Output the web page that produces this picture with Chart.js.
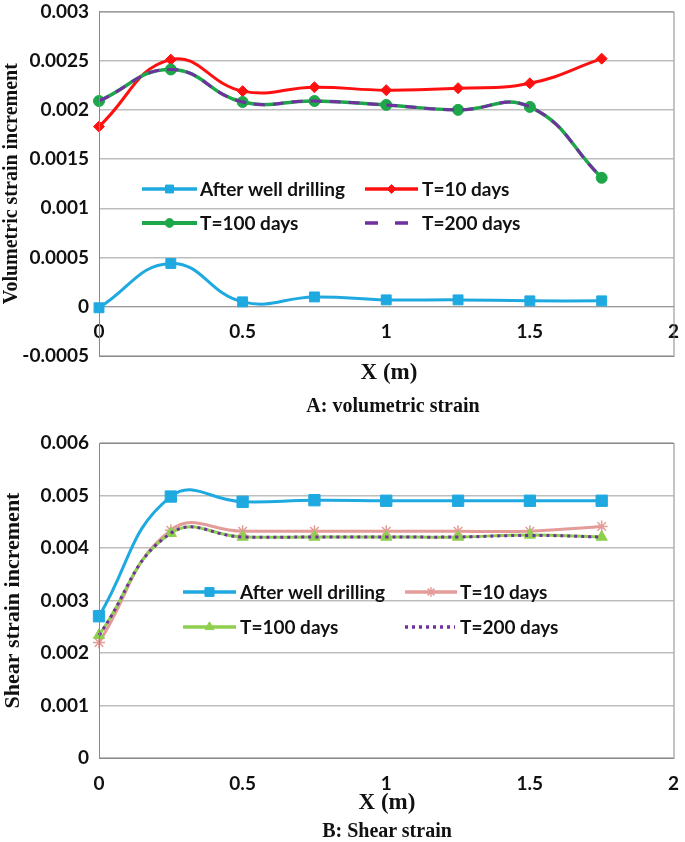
<!DOCTYPE html>
<html>
<head>
<meta charset="utf-8">
<script src="https://cdn.jsdelivr.net/npm/chart.js@4/dist/chart.umd.min.js"></script>
<style>
  body { margin: 0; background: #fff; width: 685px; height: 842px; position: relative; overflow: hidden; }
  canvas { position: absolute; left: 0; }
  .lbl { position: absolute; text-align: center; font-family: 'Liberation Serif', 'Times New Roman', serif; font-weight: bold; color: #111; white-space: nowrap; }
</style>
</head>
<body>
<canvas id="chart-vol" width="685" height="380" style="top:0"></canvas>
<div class="lbl" style="left:289px;width:200px;top:359px;font-size:23px">X (m)</div>
<div class="lbl" style="left:243px;width:300px;top:394px;font-size:20px">A: volumetric strain</div>

<canvas id="chart-shear" width="685" height="400" style="top:420px"></canvas>
<div class="lbl" style="left:287px;width:200px;top:789px;font-size:23px">X (m)</div>
<div class="lbl" style="left:237px;width:300px;top:819px;font-size:20px">B: Shear strain</div>

<script>
/* ── Datos ── */
const xPos       = [0, 0.25, 0.5, 0.75, 1, 1.25, 1.5, 1.75];
const xTicks     = [0, 0.5, 1, 1.5, 2];
const seriesNames = ['After well drilling', 'T=10 days', 'T=100 days', 'T=200 days'];

// A: volumetric strain increment
const volTicks   = [-0.0005, 0, 0.0005, 0.001, 0.0015, 0.002, 0.0025, 0.003];
const volAfter   = [-0.00001, 0.00044, 0.00005, 0.0001, 0.00007, 0.00007, 0.00006, 0.00006];
const volT10     = [0.00183, 0.00251, 0.00219, 0.00223, 0.0022, 0.00222, 0.00227, 0.00252];
const volT100    = [0.00209, 0.00241, 0.00208, 0.00209, 0.00205, 0.002, 0.00203, 0.00131];
const volT200    = [0.00209, 0.00241, 0.00208, 0.00209, 0.00205, 0.002, 0.00203, 0.00131];

// B: shear strain increment
const shearTicks = [0, 0.001, 0.002, 0.003, 0.004, 0.005, 0.006];
const shearAfter = [0.0027, 0.00498, 0.00488, 0.00491, 0.0049, 0.0049, 0.0049, 0.0049];
const shearT10   = [0.0022, 0.00434, 0.00432, 0.00432, 0.00432, 0.00432, 0.00432, 0.00441];
const shearT100  = [0.00234, 0.00428, 0.00421, 0.00421, 0.00421, 0.00421, 0.00425, 0.00421];
const shearT200  = [0.00234, 0.00428, 0.00421, 0.00421, 0.00421, 0.00421, 0.00424, 0.00421];

const pts = arr => arr.map((y, i) => ({ x: xPos[i], y }));
const fmt = v => String(Number(v.toFixed(4)));

const tickFont  = { family: "Lato, 'Open Sans', sans-serif", size: 19, weight: 'bold' };
const serif     = "'Liberation Serif', 'Times New Roman', serif";
const gridColor = '#bdbdbd';

/* ── Plugins ── */
const plotBorder = {
  id: 'plotBorder',
  afterDraw(chart) {
    const { ctx, chartArea: a } = chart;
    ctx.save();
    ctx.strokeStyle = '#8a8a8a';
    ctx.lineWidth = 1;
    ctx.strokeRect(a.left + 0.5, a.top + 0.5, a.right - a.left, a.bottom - a.top);
    ctx.restore();
  }
};

const insideLegend = {
  id: 'insideLegend',
  afterDraw(chart, args, opts) {
    const ctx = chart.ctx;
    ctx.save();
    opts.items.forEach(it => {
      const ds = chart.data.datasets[it.index];
      ctx.strokeStyle = ds.borderColor;
      ctx.lineWidth = ds.borderWidth + 0.5;
      ctx.lineCap = 'butt';
      ctx.setLineDash(it.dash || ds.borderDash || []);
      ctx.beginPath();
      ctx.moveTo(it.x0, it.y);
      ctx.lineTo(it.x1, it.y);
      ctx.stroke();
      ctx.setLineDash([]);
      if (ds.pointRadius && Chart.helpers && Chart.helpers.drawPoint) {
        ctx.fillStyle = ds.pointBackgroundColor;
        ctx.strokeStyle = ds.pointBorderColor;
        ctx.lineWidth = ds.pointBorderWidth;
        Chart.helpers.drawPoint(ctx, {
          pointStyle: ds.pointStyle, radius: ds.pointRadius * 0.8,
          rotation: 0, borderWidth: ds.pointBorderWidth
        }, (it.x0 + it.x1) / 2, it.y);
      }
      ctx.fillStyle = '#111';
      ctx.font = `bold 19px Lato, 'Open Sans', sans-serif`;
      ctx.textBaseline = 'middle';
      ctx.textAlign = 'left';
      ctx.fillText(ds.label, it.tx, it.y + 1);
    });
    ctx.restore();
  }
};

function lineSet(label, data, color, extra) {
  return Object.assign({
    label, data: pts(data),
    borderColor: color, backgroundColor: color,
    pointBackgroundColor: color, pointBorderColor: color,
    borderWidth: 3, pointBorderWidth: 1, tension: 0.45, clip: false, fill: false,
  }, extra);
}

function yScale(ticks, title, titleSize) {
  return {
    type: 'linear', min: ticks[0], max: ticks[ticks.length - 1],
    afterFit: s => { s.width = 99; },
    afterBuildTicks: s => { s.ticks = ticks.map(v => ({ value: v })); },
    grid: { color: gridColor, lineWidth: 1.5, drawTicks: true, tickLength: 10, tickColor: 'rgba(0,0,0,0)' },
    border: { color: '#9a9a9a', width: 1 },
    ticks: { font: tickFont, color: '#111', padding: 0, callback: v => fmt(v) },
    title: { display: true, text: title, font: { family: serif, size: titleSize, weight: 'bold' }, color: '#111', padding: 0 },
  };
}

function xScale(extra) {
  return Object.assign({
    type: 'linear', min: 0, max: 2,
    afterBuildTicks: s => { s.ticks = xTicks.map(v => ({ value: v })); },
    grid: { display: false },
    border: { display: true, color: '#9a9a9a', width: 1 },
  }, extra);
}

/* ── A: deformación volumétrica ── */
new Chart(document.getElementById('chart-vol'), {
  type: 'line',
  data: {
    datasets: [
      lineSet(seriesNames[0], volAfter, '#1fa9e1', { pointStyle: 'rect', pointRadius: 7, order: 0 }),
      lineSet(seriesNames[1], volT10,   '#ff1010', { pointStyle: 'rectRot', pointRadius: 5.5, order: 3 }),
      lineSet(seriesNames[2], volT100,  '#1ea64b', { pointStyle: 'circle', pointRadius: 5.5, borderWidth: 3.5, order: 2 }),
      lineSet(seriesNames[3], volT200,  '#7030a0', { pointRadius: 0, borderDash: [11, 8], borderWidth: 3, order: 1 }),
    ],
  },
  options: {
    responsive: false, animation: false,
    layout: { autoPadding: false, padding: { top: 7, right: 6, bottom: 24, left: 0 } },
    scales: {
      x: xScale({ position: { y: 0 }, afterFit: s => { s.height = 0; },
        ticks: { font: tickFont, color: '#111', padding: 6, callback: v => fmt(v), maxRotation: 0 } }),
      y: yScale(volTicks, 'Volumetric strain increment', 20),
    },
    plugins: {
      legend: { display: false }, tooltip: { enabled: false },
      insideLegend: { items: [
        { index: 0, x0: 142, x1: 197, tx: 200, y: 189 },
        { index: 1, x0: 365, x1: 418, tx: 422, y: 189 },
        { index: 2, x0: 142, x1: 197, tx: 200, y: 223 },
        { index: 3, x0: 365, x1: 410, tx: 422, y: 223, dash: [13, 17] },
      ] },
    },
  },
  plugins: [plotBorder, insideLegend],
});

/* ── B: deformación por corte ── */
new Chart(document.getElementById('chart-shear'), {
  type: 'line',
  data: {
    datasets: [
      lineSet(seriesNames[0], shearAfter, '#1fa9e1', { pointStyle: 'rect', pointRadius: 8, order: 3 }),
      lineSet(seriesNames[1], shearT10,   '#e39c98', { pointStyle: 'star', pointRadius: 6, pointBorderWidth: 1.5, backgroundColor: 'rgba(0,0,0,0)', order: 2 }),
      lineSet(seriesNames[2], shearT100,  '#8fcf4f', { pointStyle: 'triangle', pointRadius: 6.5, order: 1 }),
      lineSet(seriesNames[3], shearT200,  '#7030a0', { pointRadius: 0, borderDash: [3, 4], borderWidth: 3, order: 0 }),
    ],
  },
  options: {
    responsive: false, animation: false,
    layout: { autoPadding: false, padding: { top: 23, right: 11, bottom: 17, left: 0 } },
    scales: {
      x: xScale({ position: 'bottom', afterFit: s => { s.height = 45; },
        ticks: { font: tickFont, color: '#111', padding: 6, callback: v => fmt(v), maxRotation: 0 } }),
      y: yScale(shearTicks, 'Shear strain increment', 22),
    },
    plugins: {
      legend: { display: false }, tooltip: { enabled: false },
      insideLegend: { items: [
        { index: 0, x0: 183, x1: 236, tx: 240, y: 172 },
        { index: 1, x0: 405, x1: 457, tx: 460, y: 172 },
        { index: 2, x0: 183, x1: 236, tx: 240, y: 207 },
        { index: 3, x0: 405, x1: 455, tx: 460, y: 207 },
      ] },
    },
  },
  plugins: [plotBorder, insideLegend],
});
</script>
</body>
</html>
